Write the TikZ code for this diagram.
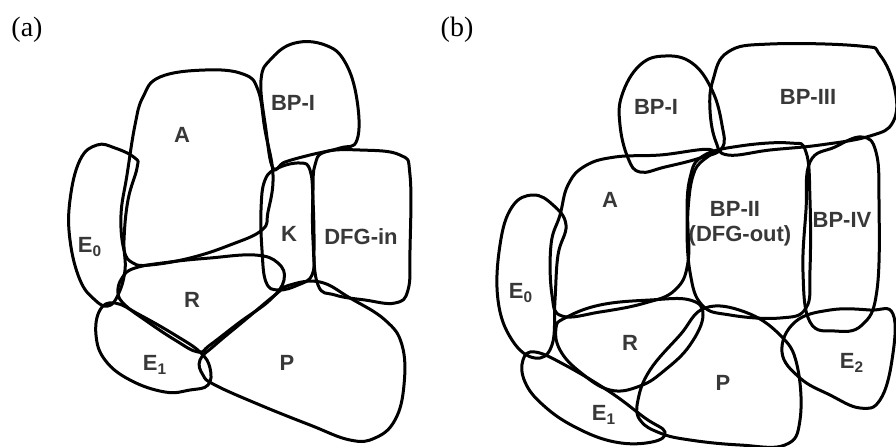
\documentclass[tikz,border=0pt]{standalone}
\usepackage{fontspec}
\setmainfont{Liberation Serif}
\newfontfamily\lblfont{Liberation Sans}
\begin{document}
\begin{tikzpicture}[x=0.5pt,y=-0.5pt,
  blob/.style={line width=1.5pt,line join=round},
  lbl/.style={font=\lblfont\bfseries\fontsize{11}{12}\selectfont,text=black!78,inner sep=0pt},
  panel/.style={font=\fontsize{14}{16}\selectfont,inner sep=0pt}]
\useasboundingbox (0,0) rectangle (896,446);
% ---------- panel (a) ----------
\node[panel] (pa) at (27,30) {(a)};
\draw[blob] plot[smooth cycle,tension=0.7] coordinates {(143,97)(160,77)(205,70)(243,74)(258,90)(265,130)(273,175)(268,212)(262,230)(230,245)(190,258)(150,265)(133,263)(124,250)(121,215)(127,175)(135,125)};
\draw[blob] plot[smooth cycle,tension=0.7] coordinates {(80,160)(97,145)(115,148)(135,158)(137,168)(128,200)(124,240)(125,270)(118,295)(108,306)(95,300)(80,280)(70,240)(70,200)};
\draw[blob] plot[smooth cycle,tension=0.7] coordinates {(100,310)(115,303)(140,315)(175,335)(200,352)(210,368)(208,385)(190,390)(165,392)(130,380)(105,360)(96,335)};
\draw[blob] plot[smooth cycle,tension=0.7] coordinates {(118,293)(122,278)(135,268)(170,262)(210,258)(255,255)(278,263)(284,280)(270,300)(240,322)(210,345)(198,352)(175,340)(145,320)(125,305)};
\draw[blob] plot[smooth cycle,tension=0.7] coordinates {(200,360)(215,345)(245,320)(275,295)(290,285)(320,282)(350,298)(385,320)(402,345)(404,385)(395,420)(375,438)(350,440)(310,425)(260,405)(215,385)(203,375)};
\draw[blob] plot[smooth cycle,tension=0.7] coordinates {(265,180)(278,168)(300,163)(310,170)(313,200)(314,250)(312,275)(298,285)(278,290)(266,282)(262,250)(261,210)};
\draw[blob] plot[smooth cycle,tension=0.7] coordinates {(315,165)(325,152)(360,150)(400,155)(410,175)(410,250)(408,290)(395,303)(365,300)(335,295)(318,285)(313,240)(313,190)};
\draw[blob] plot[smooth cycle,tension=0.7] coordinates {(261,80)(272,58)(295,43)(325,45)(345,62)(357,100)(357,140)(340,148)(310,155)(285,162)(273,168)(266,130)};
\node[lbl] (la-A) at (182,135) {A};
\node[lbl] (la-BPI) at (293,103) {BP-I};
\node[lbl] (la-K) at (289,234) {K};
\node[lbl] (la-DFG) at (361,237) {DFG-in};
\node[lbl] (la-E0) at (90,247) {E\textsubscript{0}};
\node[lbl] (la-R) at (192,300) {R};
\node[lbl] (la-E1) at (155,365) {E\textsubscript{1}};
\node[lbl] (la-P) at (287,363) {P};
% ---------- panel (b) ----------
\node[panel] (pb) at (457,30) {(b)};
\draw[blob] plot[smooth cycle,tension=0.7] coordinates {(622,95)(640,65)(665,56)(692,63)(712,90)(722,125)(722,148)(700,158)(665,167)(640,172)(628,158)(620,125)};
\draw[blob] plot[smooth cycle,tension=0.7] coordinates {(713,80)(728,52)(770,44)(860,46)(880,55)(895,90)(893,122)(870,136)(820,145)(770,150)(728,155)(716,142)(710,110)};
\draw[blob] plot[smooth cycle,tension=0.7] coordinates {(568,185)(585,166)(615,157)(660,155)(712,150)(695,170)(688,210)(688,262)(675,290)(645,303)(600,312)(562,316)(552,295)(551,245)(560,215)};
\draw[blob] plot[smooth cycle,tension=0.7] coordinates {(690,178)(703,156)(740,146)(790,143)(806,152)(810,200)(810,270)(806,308)(780,318)(730,315)(702,305)(690,272)(687,220)};
\draw[blob] plot[smooth cycle,tension=0.7] coordinates {(810,162)(835,147)(862,137)(876,152)(879,200)(877,290)(862,325)(835,331)(810,322)(803,272)(806,210)};
\draw[blob] plot[smooth cycle,tension=0.7] coordinates {(512,207)(533,195)(553,205)(566,225)(558,255)(555,300)(552,345)(535,358)(512,340)(498,300)(500,245)};
\draw[blob] plot[smooth cycle,tension=0.7] coordinates {(556,328)(565,318)(600,305)(650,300)(690,300)(703,315)(690,345)(665,370)(640,386)(610,390)(580,372)(560,350)};
\draw[blob] plot[smooth cycle,tension=0.7] coordinates {(523,360)(535,352)(565,365)(610,392)(645,418)(665,432)(652,442)(615,442)(575,427)(543,405)(525,382)};
\draw[blob] plot[smooth cycle,tension=0.7] coordinates {(638,400)(650,370)(680,335)(705,308)(745,312)(780,335)(797,365)(800,420)(785,445)(740,445)(690,440)(660,433)(640,420)};
\draw[blob] plot[smooth cycle,tension=0.7] coordinates {(782,352)(795,322)(830,310)(870,310)(893,314)(892,360)(880,400)(860,408)(830,395)(800,378)};
\node[lbl] (lb-BPI) at (656,107) {BP-I};
\node[lbl] (lb-BPIII) at (808,97) {BP-III};
\node[lbl] (lb-A) at (610,200) {A};
\node[lbl] (lb-BPII) at (735,209) {BP-II};
\node[lbl] (lb-DFG) at (740,236) {(DFG-out)};
\node[lbl] (lb-BPIV) at (842,220) {BP-IV};
\node[lbl] (lb-E0) at (521,293) {E\textsubscript{0}};
\node[lbl] (lb-R) at (630,343) {R};
\node[lbl] (lb-E1) at (604,415) {E\textsubscript{1}};
\node[lbl] (lb-P) at (723,383) {P};
\node[lbl] (lb-E2) at (852,363) {E\textsubscript{2}};
\end{tikzpicture}
\end{document}
